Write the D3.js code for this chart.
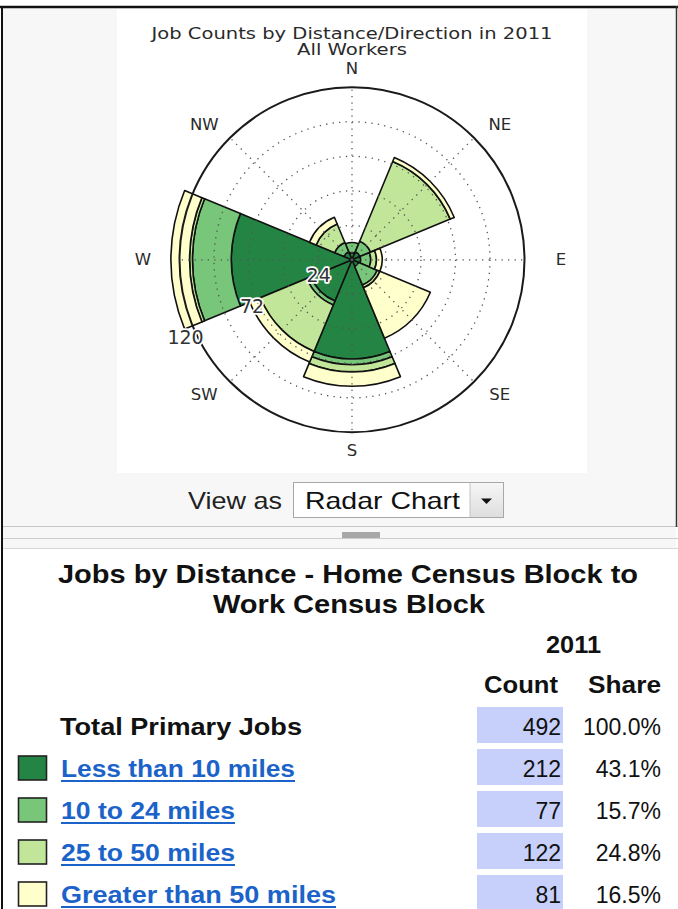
<!DOCTYPE html>
<html>
<head>
<meta charset="utf-8">
<script src="https://cdn.jsdelivr.net/npm/d3@7"></script>
<style>
html, body { margin: 0; padding: 0; background: #fff; }
svg { display: block; }
</style>
</head>
<body>
<svg id="page"></svg>
<script>
// job counts per compass direction, one array per distance band
const directions = ["N", "NE", "E", "SE", "S", "SW", "W", "NW"];
const under10 = [5, 6, 6, 5, 69, 31, 84, 6];
const from10to24 = [7, 8, 7, 14, 4, 3, 27, 7];
const from25to50 = [0, 60, 4, 2, 5, 35, 2, 14];
const over50 = [0, 3, 4, 38, 10, 8, 13, 5];

const bandNames = ["Less than 10 miles", "10 to 24 miles", "25 to 50 miles", "Greater than 50 miles"];
const bandColors = ["#238443", "#78c679", "#c2e699", "#ffffcc"];
const bandCounts = [212, 77, 122, 81];
const bandShares = ["43.1%", "15.7%", "24.8%", "16.5%"];
const totalJobs = 492;
const totalShare = "100.0%";

const ringTicks = [24, 48, 72, 96];
const ringLabels = [24, 72, 120];
const rMax = 120;

const chartTitle = ["Job Counts by Distance/Direction in 2011", "All Workers"];
const tableTitle = ["Jobs by Distance - Home Census Block to", "Work Census Block"];
const tableYear = "2011";

const width = 678, height = 909;
const sans = "'Liberation Sans', Arial, sans-serif";
const mpl = "'DejaVu Sans', sans-serif";

const svg = d3.select("#page").attr("width", width).attr("height", height);

// ---------- top panel ----------
svg.append("rect").attr("x", 3).attr("y", 8).attr("width", 673).attr("height", 540).attr("fill", "#f7f7f7");
svg.append("rect").attr("x", 117).attr("y", 9).attr("width", 470).attr("height", 464).attr("fill", "#fff");

const cx = 352, cy = 259.8, R = 172.5;
const g = svg.append("g").attr("transform", `translate(${cx},${cy})`);

const r = d3.scaleLinear().domain([0, rMax]).range([0, R]);
const theta = d3.scaleBand().domain(directions).range([-Math.PI / 8, 2 * Math.PI - Math.PI / 8]);

const rows = directions.map((d, i) => ({ dir: d, b0: under10[i], b1: from10to24[i], b2: from25to50[i], b3: over50[i] }));
const series = d3.stack().keys(["b0", "b1", "b2", "b3"])(rows);

const arc = d3.arc()
    .innerRadius(d => r(d[0]))
    .outerRadius(d => r(d[1]))
    .startAngle(d => theta(d.data.dir))
    .endAngle(d => theta(d.data.dir) + theta.bandwidth());

g.selectAll("g.band")
    .data(series)
    .join("g")
    .attr("class", "band")
    .attr("fill", (s, i) => bandColors[i])
    .selectAll("path")
    .data(s => s.filter(d => d[1] > d[0]))
    .join("path")
    .attr("d", arc)
    .attr("stroke", "#111")
    .attr("stroke-width", 1.6)
    .attr("stroke-linejoin", "round");

// dotted grid sits on top of the bars
const dots = "1.3,5.2";
g.selectAll("circle.ring")
    .data(ringTicks)
    .join("circle")
    .attr("class", "ring")
    .attr("r", d => r(d))
    .attr("fill", "none")
    .attr("stroke", "#555")
    .attr("stroke-width", 1.3)
    .attr("stroke-dasharray", dots);

const mid = d => theta(d) + theta.bandwidth() / 2;
g.selectAll("line.spoke")
    .data(directions)
    .join("line")
    .attr("class", "spoke")
    .attr("x1", 0).attr("y1", 0)
    .attr("x2", d => r(rMax) * Math.sin(mid(d)))
    .attr("y2", d => -r(rMax) * Math.cos(mid(d)))
    .attr("stroke", "#555")
    .attr("stroke-width", 1.3)
    .attr("stroke-dasharray", dots);

g.append("circle").attr("r", r(rMax)).attr("fill", "none").attr("stroke", "#1a1a1a").attr("stroke-width", 2);

// compass labels, on a slightly wide ellipse round the circle
g.selectAll("text.dir")
    .data(directions)
    .join("text")
    .attr("class", "dir")
    .attr("x", d => 209 * Math.sin(mid(d)))
    .attr("y", d => -191 * Math.cos(mid(d)))
    .attr("text-anchor", "middle")
    .attr("dominant-baseline", "central")
    .attr("font-family", mpl)
    .attr("font-size", 16.5)
    .attr("fill", "#2a2a2a")
    .text(d => d);

// radial tick labels along WSW
const labelAngle = 245 * Math.PI / 180;
g.selectAll("text.rtick")
    .data(ringLabels)
    .join("text")
    .attr("class", "rtick")
    .attr("x", d => r(d) * 1.065 * Math.sin(labelAngle))
    .attr("y", d => -r(d) * 1.065 * Math.cos(labelAngle))
    .attr("text-anchor", "middle")
    .attr("dominant-baseline", "central")
    .attr("font-family", mpl)
    .attr("font-size", 19)
    .attr("fill", "#333")
    .attr("stroke", "#fff")
    .attr("stroke-width", 3.5)
    .attr("stroke-linejoin", "round")
    .attr("paint-order", "stroke")
    .text(d => d);

svg.selectAll("text.ctitle")
    .data(chartTitle)
    .join("text")
    .attr("class", "ctitle")
    .attr("x", cx)
    .attr("y", (d, i) => 38.5 + i * 16.5)
    .attr("text-anchor", "middle")
    .attr("font-family", mpl)
    .attr("font-size", 15.5)
    .attr("fill", "#2a2a2a")
    .attr("textLength", (d, i) => i === 0 ? 401 : 110)
    .attr("lengthAdjust", "spacingAndGlyphs")
    .text(d => d);

// "View as" selector
svg.append("text").attr("x", 188).attr("y", 508.5).attr("font-family", sans).attr("font-size", 24)
    .attr("fill", "#222").attr("textLength", 94).attr("lengthAdjust", "spacingAndGlyphs").text("View as");
const grad = svg.append("defs").append("linearGradient").attr("id", "btn").attr("x1", 0).attr("x2", 0).attr("y1", 0).attr("y2", 1);
grad.append("stop").attr("offset", 0).attr("stop-color", "#f6f6f6");
grad.append("stop").attr("offset", 1).attr("stop-color", "#dedede");
svg.append("rect").attr("x", 293.5).attr("y", 482.5).attr("width", 210).attr("height", 35)
    .attr("fill", "#fff").attr("stroke", "#a8a8a8");
svg.append("rect").attr("x", 470).attr("y", 483).attr("width", 33).attr("height", 34).attr("fill", "url(#btn)");
svg.append("line").attr("x1", 470).attr("x2", 470).attr("y1", 483).attr("y2", 517).attr("stroke", "#c4c4c4");
svg.append("path").attr("d", "M481,498.5 L492,498.5 L486.5,504 Z").attr("fill", "#111");
svg.append("text").attr("x", 305).attr("y", 508.5).attr("font-family", sans).attr("font-size", 24)
    .attr("fill", "#111").attr("textLength", 155).attr("lengthAdjust", "spacingAndGlyphs").text("Radar Chart");

// splitter
[[526.5, "#c8c8c8"], [538.5, "#cdcdcd"], [548.5, "#d8d8d8"]].forEach(([y, c]) =>
    svg.append("line").attr("x1", 3).attr("x2", 678).attr("y1", y).attr("y2", y).attr("stroke", c).attr("stroke-width", 1.2));
svg.append("rect").attr("x", 342).attr("y", 532).attr("width", 38).attr("height", 6).attr("fill", "#a8a8a8");
svg.append("rect").attr("x", 3).attr("y", 549.2).attr("width", 675).attr("height", 360).attr("fill", "#fff");

// ---------- table ----------
svg.selectAll("text.ttitle")
    .data(tableTitle)
    .join("text")
    .attr("class", "ttitle")
    .attr("x", (d, i) => i === 0 ? 58 : 213)
    .attr("y", (d, i) => 583 + i * 30)
    .attr("font-family", sans)
    .attr("font-weight", "bold")
    .attr("font-size", 25)
    .attr("fill", "#111")
    .attr("textLength", (d, i) => i === 0 ? 580 : 272)
    .attr("lengthAdjust", "spacingAndGlyphs")
    .text(d => d);

const head = (txt, x, y, w) => svg.append("text").attr("x", x).attr("y", y).attr("font-family", sans)
    .attr("font-weight", "bold").attr("font-size", 23.5).attr("fill", "#111")
    .attr("textLength", w).attr("lengthAdjust", "spacingAndGlyphs").text(txt);
head(tableYear, 546, 653, 55);
head("Count", 484, 693, 74);
head("Share", 588, 693, 73);

const rowY = d3.scaleLinear().domain([0, 4]).range([735, 903]);
const tableRows = [{ label: "Total Primary Jobs", count: totalJobs, share: totalShare, color: null, w: 242 }]
    .concat(bandNames.map((n, i) => ({ label: n, count: bandCounts[i], share: bandShares[i], color: bandColors[i],
        w: [234, 174, 174, 275][i] })));

const row = svg.selectAll("g.row")
    .data(tableRows)
    .join("g")
    .attr("class", "row")
    .attr("transform", (d, i) => `translate(0,${rowY(i)})`);

row.append("rect").attr("x", 477).attr("y", -28).attr("width", 86).attr("height", 36).attr("fill", "#c7d0fb");
row.append("text").attr("x", 561).attr("y", 0).attr("text-anchor", "end").attr("font-family", sans)
    .attr("font-size", 23).attr("fill", "#111").text(d => d.count);
row.append("text").attr("x", 661).attr("y", 0).attr("text-anchor", "end").attr("font-family", sans)
    .attr("font-size", 23).attr("fill", "#111").text(d => d.share);

row.append("text")
    .attr("x", d => d.color ? 61 : 60)
    .attr("y", 0)
    .attr("font-family", sans)
    .attr("font-weight", "bold")
    .attr("font-size", 23.5)
    .attr("fill", d => d.color ? "#1b63c9" : "#111")
    .attr("textLength", d => d.w)
    .attr("lengthAdjust", "spacingAndGlyphs")
    .text(d => d.label);

const legendRows = row.filter(d => d.color);
legendRows.append("line").attr("x1", 61).attr("x2", d => 61 + d.w).attr("y1", 4).attr("y2", 4)
    .attr("stroke", "#1b63c9").attr("stroke-width", 2);
legendRows.append("rect").attr("x", 18.5).attr("y", -21).attr("width", 28).attr("height", 24)
    .attr("fill", d => d.color).attr("stroke", "#222").attr("stroke-width", 1.6);

// frame lines
svg.append("line").attr("x1", 0).attr("x2", width).attr("y1", 7).attr("y2", 7).attr("stroke", "#111").attr("stroke-width", 2.5);
svg.append("line").attr("x1", 2).attr("x2", 2).attr("y1", 6).attr("y2", height).attr("stroke", "#111").attr("stroke-width", 2);
svg.append("line").attr("x1", 676.5).attr("x2", 676.5).attr("y1", 6).attr("y2", 527).attr("stroke", "#333").attr("stroke-width", 1.5);
</script>
</body>
</html>
